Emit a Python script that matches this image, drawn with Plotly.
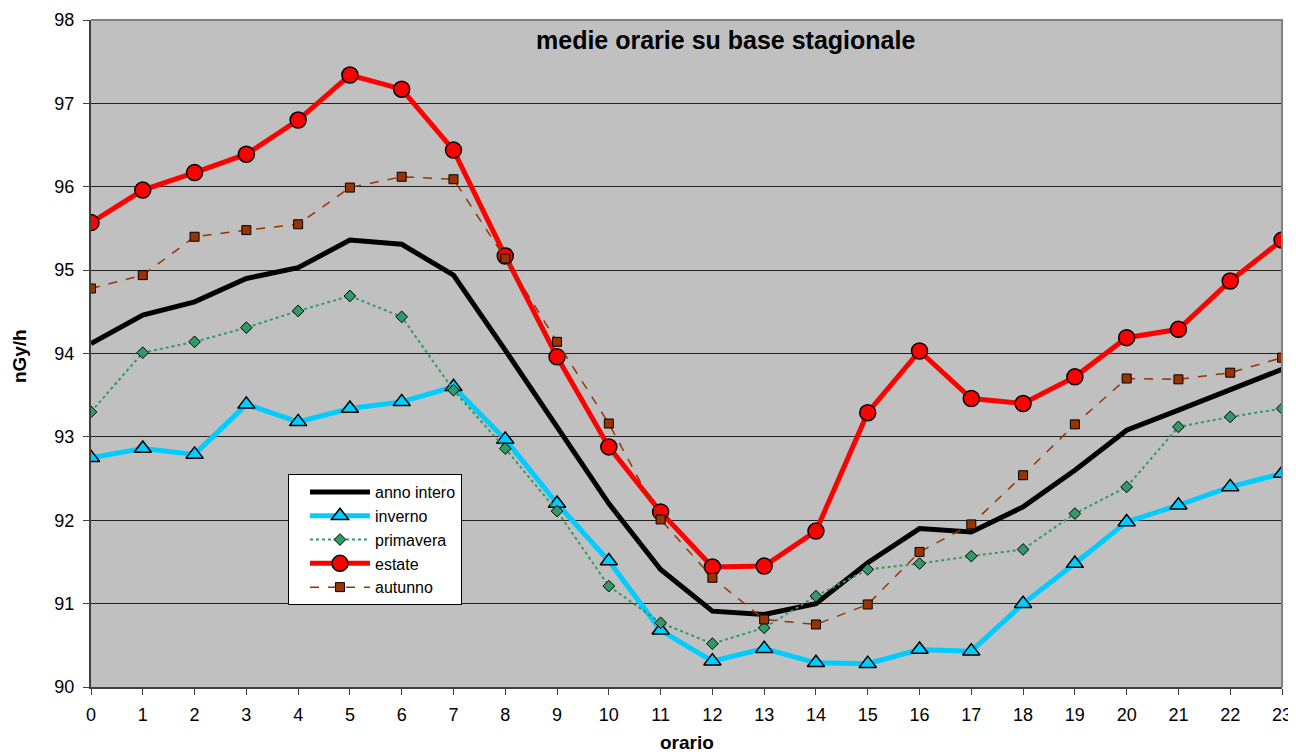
import plotly.graph_objects as go

ore = list(range(24))
anno_intero = [94.12, 94.46, 94.62, 94.90, 95.03, 95.36, 95.31, 94.94, 94.04, 93.12,
               92.20, 91.41, 90.91, 90.87, 91.00, 91.49, 91.90, 91.86, 92.16, 92.60,
               93.08, 93.32, 93.57, 93.81]
inverno = [92.75, 92.86, 92.79, 93.39, 93.18, 93.34, 93.42, 93.60, 92.97, 92.20,
           91.51, 90.68, 90.31, 90.46, 90.29, 90.28, 90.45, 90.43, 91.00, 91.48,
           91.98, 92.18, 92.40, 92.56]
primavera = [93.30, 94.01, 94.14, 94.31, 94.51, 94.69, 94.44, 93.56, 92.86, 92.11,
             91.21, 90.77, 90.52, 90.71, 91.09, 91.41, 91.48, 91.57, 91.65, 92.08,
             92.40, 93.12, 93.24, 93.34]
estate = [95.57, 95.96, 96.17, 96.39, 96.80, 97.34, 97.17, 96.44, 95.17, 93.96,
          92.88, 92.10, 91.44, 91.45, 91.87, 93.29, 94.03, 93.46, 93.40, 93.72,
          94.19, 94.29, 94.87, 95.36]
autunno = [94.78, 94.94, 95.40, 95.48, 95.55, 95.99, 96.12, 96.09, 95.14, 94.14,
           93.16, 92.01, 91.31, 90.81, 90.75, 90.99, 91.62, 91.95, 92.54, 93.15,
           93.70, 93.69, 93.77, 93.95]

titolo = "medie orarie su base stagionale"
y_titolo = "nGy/h"
x_titolo = "orario"

FONT = "Liberation Sans, Arial, sans-serif"

fig = go.Figure()
fig.add_trace(go.Scatter(x=ore, y=anno_intero, name="anno intero", mode="lines",
                         line=dict(color="black", width=5)))
fig.add_trace(go.Scatter(x=ore, y=inverno, name="inverno", mode="lines+markers",
                         line=dict(color="#00CCFF", width=5),
                         marker=dict(symbol="triangle-up", size=15, color="#00CCFF",
                                     line=dict(color="black", width=1.5))))
fig.add_trace(go.Scatter(x=ore, y=primavera, name="primavera", mode="lines+markers",
                         line=dict(color="#339966", width=2, dash="dot"),
                         marker=dict(symbol="diamond", size=9, color="#339966",
                                     line=dict(color="black", width=1))))
fig.add_trace(go.Scatter(x=ore, y=estate, name="estate", mode="lines+markers",
                         line=dict(color="#FF0000", width=5),
                         marker=dict(symbol="circle", size=16, color="#FF0000",
                                     line=dict(color="black", width=1.5))))
fig.add_trace(go.Scatter(x=ore, y=autunno, name="autunno", mode="lines+markers",
                         line=dict(color="#993300", width=1.5, dash="dash"),
                         marker=dict(symbol="square", size=9, color="#993300",
                                     line=dict(color="black", width=1))))

fig.update_layout(
    width=1288, height=747,
    margin=dict(l=83, r=14, t=12, b=68, autoexpand=False),
    paper_bgcolor="white",
    plot_bgcolor="#C0C0C0",
    font=dict(family=FONT, size=18, color="black"),
    showlegend=True,
    legend=dict(x=0.1654, y=0.3193, xanchor="left", yanchor="top",
                bgcolor="white", bordercolor="black", borderwidth=1,
                font=dict(family=FONT, size=16, color="black"),
                tracegroupgap=0, itemwidth=60, indentation=16),
    annotations=[
        dict(text="<b>" + titolo + "</b>", x=0.533, y=0.970, xref="paper", yref="paper",
             xanchor="center", yanchor="middle", showarrow=False,
             font=dict(family=FONT, size=25, color="black")),
        dict(text="<b>" + y_titolo + "</b>", x=-0.0605, y=0.496, xref="paper", yref="paper",
             xanchor="center", yanchor="middle", showarrow=False, textangle=-90,
             font=dict(family=FONT, size=19, color="black")),
        dict(text="<b>" + x_titolo + "</b>", x=0.5, y=-0.0825, xref="paper", yref="paper",
             xanchor="center", yanchor="middle", showarrow=False,
             font=dict(family=FONT, size=19, color="black")),
    ],
    shapes=[dict(type="path", path="M 0 1 L 1 1 L 1 0", xref="paper", yref="paper",
                 line=dict(color="#808080", width=2), layer="above")],
)

fig.update_xaxes(range=[0, 23], dtick=1, tick0=0, showgrid=False, zeroline=False,
                 automargin=False,
                 showline=True, linecolor="#404040", linewidth=2,
                 ticks="outside", ticklen=6, tickcolor="#404040", tickwidth=1,
                 ticklabelstandoff=4,
                 tickfont=dict(family=FONT, size=18))
fig.update_yaxes(range=[90, 98], dtick=1, tick0=90, showgrid=True, gridcolor="#222222",
                 gridwidth=1, zeroline=False,
                 automargin=False,
                 showline=True, linecolor="#404040", linewidth=2,
                 ticks="outside", ticklen=6, tickcolor="#404040", tickwidth=1,
                 ticklabelstandoff=5,
                 tickfont=dict(family=FONT, size=18))

fig.write_html("out.html")
